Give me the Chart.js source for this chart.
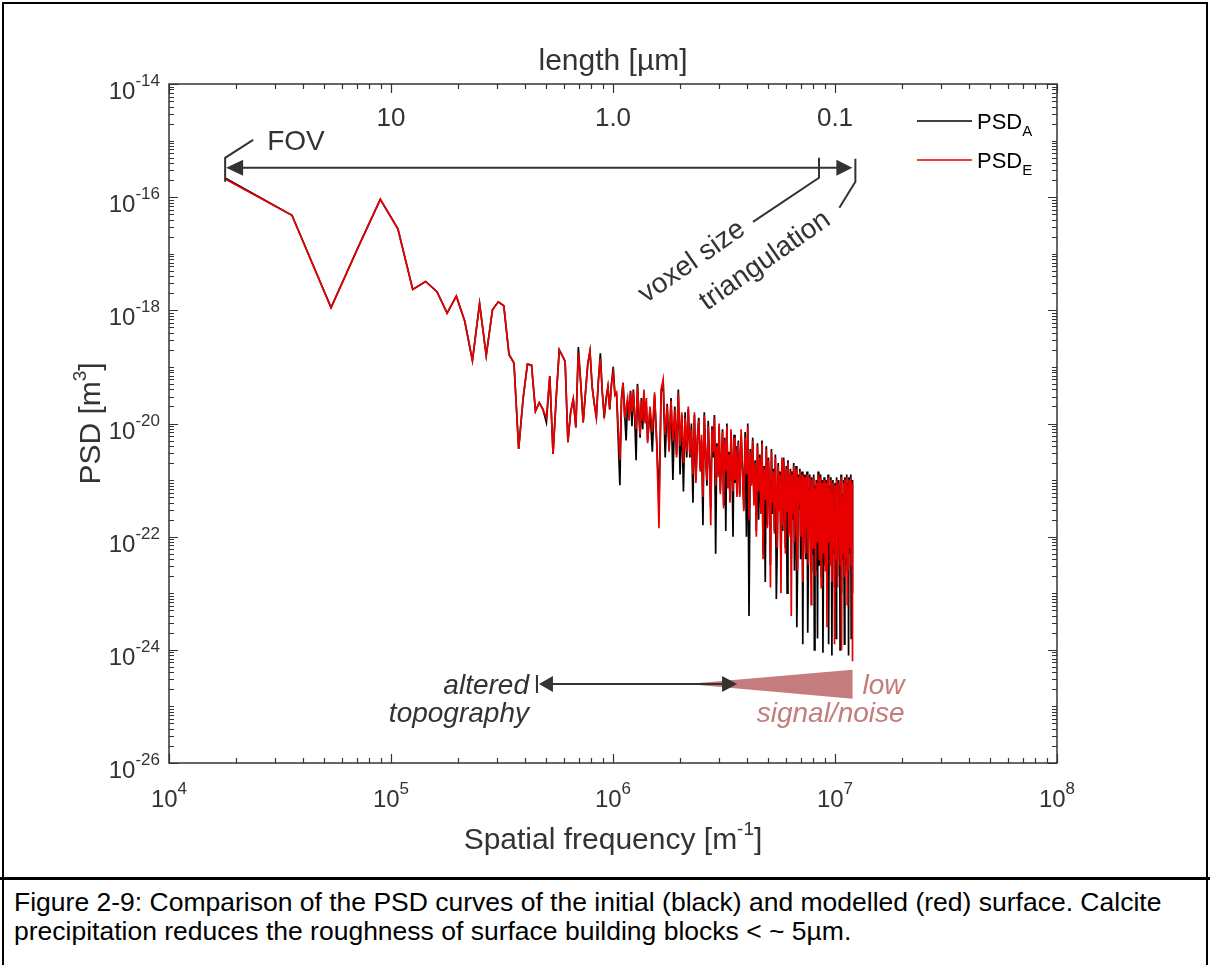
<!DOCTYPE html>
<html>
<head>
<meta charset="utf-8">
<script src="https://cdn.jsdelivr.net/npm/chart.js@4.4.1/dist/chart.umd.min.js"></script>
<style>
  html, body { margin: 0; padding: 0; background: #fff; }
  #page { position: relative; width: 1210px; height: 965px; overflow: hidden; background: #fff; }
  #frame { position: absolute; left: 2px; top: 2px; width: 1206px; height: 1000px; border: 2px solid #000; box-sizing: border-box; }
  #divider { position: absolute; left: 0; top: 877px; width: 1210px; height: 3px; background: #000; }
  #chartBox { position: absolute; left: 0; top: 0; width: 1210px; height: 877px; }
  #caption { position: absolute; left: 14px; top: 888px; width: 1190px; font: 26.5px "Liberation Sans", Arial, sans-serif; line-height: 29px; color: #000; white-space: nowrap; }
</style>
</head>
<body>
<div id="page">
  <div id="frame"></div>
  <div id="chartBox"><canvas id="psdChart" width="1210" height="877"></canvas></div>
  <div id="divider"></div>
  <div id="caption">Figure 2-9: Comparison of the PSD curves of the initial (black) and modelled (red) surface. Calcite<br>precipitation reduces the roughness of surface building blocks &lt; ~ 5µm.</div>
</div>
<script>
// ------------------------------
// data: PSD at harmonics k * F0 (F0 = 1 / field of view)
// values are log10(PSD in m^3)
// ------------------------------
const F0 = 1.79e4;

const harmonic = [
  1, 2, 3, 4, 5, 6, 7, 8, 9, 10, 11, 12, 13, 14, 15, 16, 17, 18, 19, 20,
  21, 22, 23, 24, 25, 26, 27, 28, 29, 30, 31, 32, 33, 34, 35, 36, 37, 38, 39, 40,
  41, 42, 43, 44, 45, 46, 47, 48, 49, 50, 51, 52, 53, 54, 55, 56,
  57, 58, 59, 60, 61, 62, 63, 64, 65, 66, 67, 68, 69, 70, 71, 72, 73, 74, 75, 76, 77, 78, 79, 80,
  82, 84, 86, 88, 90, 92, 94, 96, 98, 100, 102, 104, 106, 108, 110, 112, 114, 116, 118, 120,
  122, 124, 126, 128, 130, 132, 134, 136, 138, 140, 142, 144, 146, 148, 150, 152, 154, 156, 158, 160,
  162, 164, 166, 168, 170, 172, 174, 176, 178, 180, 182, 184, 186, 188, 190, 192, 194, 196, 198, 200, 202,
  205, 208, 211, 214, 217, 220, 223, 226, 229, 232, 235, 238, 241, 244, 247, 250, 253, 256, 259, 262,
  265, 268, 271, 274, 277, 280, 283, 286, 289, 292, 295, 298, 301, 304, 307, 310, 313, 316, 319, 322,
  325, 328, 331, 334, 337, 340, 343, 346, 349, 352, 355, 358, 361, 364, 367, 370, 373, 376, 379, 382,
  385, 388, 391, 394, 397, 400, 403, 406, 409, 412, 415, 418, 421, 424, 427, 430, 433, 436, 439, 442,
  445, 448, 451, 454, 457, 460, 463, 466, 469, 472, 475, 478, 481, 484, 487, 490, 493, 496, 499, 502,
  505, 508, 511, 514, 517, 520, 523, 526, 529, 532, 535, 538, 541, 544, 547, 550, 553, 556, 559, 562,
  565, 568, 571, 574, 577, 580, 583, 586, 589, 592, 595, 598, 601, 604, 607, 610, 613, 616, 619, 622,
  625, 628, 631, 634, 637, 640, 643, 646, 649, 652, 655, 658, 661, 664, 667, 670
];

// PSD_A (initial surface, black)
const psdA = [
  -15.66, -16.32, -17.95, -16.86, -16.04, -16.56, -17.63, -17.49, -17.67, -18.05,
  -17.75, -18.19, -18.89, -17.88, -18.80, -17.99, -17.85, -17.92, -18.78, -18.93,
  -20.45, -19.55, -18.95, -18.97, -19.78, -19.63, -19.75, -19.98, -19.16, -20.54,
  -19.54, -18.70, -18.80, -18.90, -20.33, -19.80, -19.57, -20.07, -18.65, -19.30,
  -19.98, -19.45, -18.95, -18.72, -19.35, -19.65, -19.89, -19.25, -18.76, -19.45,
  -19.90, -19.55, -19.35, -19.75, -19.30, -19.00,
  -19.50, -19.49, -20.30, -21.09, -19.55, -19.28, -19.80, -20.30, -19.60, -19.90,
  -19.42, -20.05, -19.40, -19.90, -20.65, -19.30, -19.80, -20.25, -19.55, -20.10,
  -19.45, -19.95, -19.70, -20.30,
  -19.75, -20.50, -19.50, -20.35, -21.40, -19.45, -19.30, -20.60, -19.65, -20.45,
  -19.55, -21.00, -19.70, -20.55, -19.40, -20.90, -19.85, -21.20, -19.80, -20.60,
  -19.75, -20.60, -20.00, -21.40, -19.85, -21.00, -20.25, -19.90, -20.80, -20.30,
  -21.80, -19.80, -20.55, -21.10, -19.95, -20.70, -21.50, -20.05, -20.60, -19.85,
  -22.30, -20.35, -20.90, -20.05, -21.20, -20.65, -20.10, -21.45, -20.25, -21.90,
  -20.00, -21.10, -20.50, -21.35, -20.15, -20.75, -22.00, -20.20, -21.05, -20.40,
  -21.25,
  -20.30, -21.25, -20.20, -20.80, -21.50, -20.15, -22.00, -20.00, -23.40, -20.45,
  -21.05, -20.25, -21.40, -20.65, -21.90, -20.35, -21.70, -20.55, -21.55, -20.30,
  -22.30, -20.75, -22.80, -20.40, -21.80, -20.60, -21.10, -22.50, -20.45, -21.60,
  -20.80, -21.90, -20.55, -23.10, -22.15, -20.70, -21.50, -20.85, -22.60, -20.65,
  -21.90, -20.60, -21.40, -22.20, -20.75, -23.00, -20.65, -21.95, -21.05, -20.80,
  -22.40, -20.85, -21.70, -20.70, -22.60, -21.20, -20.75, -23.60, -22.50, -20.90,
  -21.50, -20.80, -22.40, -21.10, -20.85, -23.90, -21.25, -20.90, -21.80, -22.40,
  -21.00, -20.85, -23.70, -22.40, -21.15, -20.90, -21.55, -22.60, -20.95, -21.50,
  -22.30, -20.90, -24.00, -21.10, -22.60, -21.00, -21.35, -23.80, -20.85, -21.75,
  -22.50, -21.05, -20.90, -22.70, -21.30, -21.00, -24.05, -22.20, -20.95, -21.55,
  -22.50, -21.15, -21.00, -22.80, -21.35, -20.90, -23.90, -21.65, -21.10, -22.40,
  -20.95, -21.55, -24.10, -21.20, -21.00, -22.30, -21.45, -22.90, -21.05, -21.65,
  -23.80, -20.95, -21.30, -22.70, -21.15, -21.00, -22.10, -21.55, -24.00, -21.10,
  -20.90, -23.00, -21.25, -21.75, -22.40, -21.00, -21.40, -23.90, -20.95, -21.85,
  -22.50, -21.15, -20.90, -22.60, -21.35, -21.05, -24.10, -20.95, -21.65, -22.30,
  -21.10, -20.90, -23.80, -21.25, -21.00, -23.00
];

// PSD_E (modelled surface, red)
const psdE = [
  -15.68, -16.32, -17.95, -16.86, -16.04, -16.56, -17.63, -17.49, -17.67, -18.05,
  -17.75, -18.19, -18.89, -17.88, -18.80, -17.99, -17.85, -17.92, -18.78, -18.93,
  -20.45, -19.55, -18.95, -18.97, -19.78, -19.63, -19.75, -19.90, -19.16, -20.54,
  -19.54, -18.70, -18.80, -18.90, -20.33, -19.80, -19.57, -20.07, -18.75, -19.30,
  -19.98, -19.45, -18.95, -18.72, -19.35, -19.65, -19.89, -19.25, -18.85, -19.45,
  -19.84, -19.60, -19.35, -19.75, -19.30, -19.10,
  -19.50, -19.45, -20.10, -20.65, -19.60, -19.28, -19.90, -19.70, -19.55, -19.95,
  -19.45, -19.80, -19.43, -19.85, -20.10, -19.35, -19.75, -20.20, -19.60, -19.95,
  -19.40, -20.00, -19.55, -20.35,
  -19.70, -20.15, -19.45, -20.40, -21.85, -19.40, -19.22, -20.20, -19.70, -20.50,
  -19.60, -20.30, -19.75, -20.60, -19.46, -20.40, -19.80, -20.70, -19.90, -20.50,
  -19.70, -20.55, -20.10, -20.90, -19.80, -21.05, -20.30, -19.95, -20.85, -20.20,
  -21.30, -19.85, -20.60, -21.00, -20.05, -20.75, -21.80, -20.10, -20.50, -19.90,
  -21.10, -20.40, -20.95, -20.00, -21.25, -20.60, -20.15, -21.50, -20.30, -20.85,
  -20.05, -21.15, -20.55, -21.40, -20.10, -20.80, -21.20, -20.25, -21.00, -20.45,
  -21.30,
  -20.35, -21.30, -20.10, -20.85, -21.55, -20.25, -20.90, -20.05, -21.70, -20.50,
  -21.10, -20.30, -21.45, -20.70, -22.00, -20.40, -21.20, -20.60, -21.60, -20.35,
  -22.40, -20.80, -21.35, -20.45, -21.85, -20.65, -21.15, -22.90, -20.50, -21.40,
  -20.85, -21.95, -20.60, -21.30, -22.20, -20.75, -21.55, -20.90, -23.00, -20.60,
  -21.80, -20.65, -21.30, -22.30, -20.80, -21.55, -20.70, -22.00, -21.10, -20.85,
  -23.40, -20.90, -21.60, -20.75, -22.10, -21.25, -20.80, -21.90, -22.60, -20.95,
  -21.40, -20.85, -22.00, -21.15, -20.90, -22.80, -21.30, -20.95, -21.75, -22.30,
  -21.05, -20.90, -21.85, -22.50, -21.20, -20.95, -21.60, -23.20, -21.00, -21.45,
  -22.20, -20.95, -21.70, -21.15, -22.70, -21.05, -21.40, -22.10, -20.90, -21.80,
  -22.40, -21.10, -20.95, -22.90, -21.35, -21.05, -21.90, -22.30, -21.00, -21.50,
  -22.60, -21.20, -21.05, -23.60, -21.40, -20.95, -22.10, -21.70, -21.15, -22.50,
  -21.00, -21.60, -22.80, -21.25, -21.05, -22.20, -21.50, -23.90, -21.10, -21.70,
  -22.40, -21.00, -21.35, -22.90, -21.20, -21.05, -22.00, -21.60, -22.50, -21.15,
  -20.95, -24.00, -21.30, -21.80, -22.30, -21.05, -21.45, -22.70, -21.00, -21.90,
  -22.40, -21.20, -20.95, -23.20, -21.40, -21.10, -22.60, -21.00, -21.70, -22.20,
  -21.15, -20.95, -22.50, -21.30, -21.05, -24.20
];

const seriesNames = ["PSD", "PSD"];
const seriesSubs = ["A", "E"];
const seriesColors = ["#000000", "#e80000"];

// axis ticks
const xDecades = [4, 5, 6, 7, 8];
const yLabelExps = [-14, -16, -18, -20, -22, -24, -26];
const topTickFreqs = [1e5, 1e6, 1e7];
const topTickLabels = ["10", "1.0", "0.1"];

// annotations (frequency in m^-1, PSD in m^3)
const fovFrom = F0, fovTo = 1.21e7, fovLevel = 3.3e-16;
const voxelFreq = 8.47e6;
const alteredFrom = 4.64e5, alteredTo = 3.62e6, alteredLevel = 2.5e-25;
const wedgeTip = 2.15e6, wedgeEnd = 1.2e7, wedgeTop = 4.44e-25, wedgeBottom = 1.36e-25;

const FONT = '"Liberation Sans", Arial, sans-serif';
const INK = "#333333";

function font(size, style) {
  return `${style || ""} ${size}px ${FONT}`;
}

// draws a row of text pieces (used for superscripts)
function drawRuns(ctx, runs, x, y, align, style) {
  let w = 0;
  runs.forEach(r => {
    ctx.font = font(r.size, style);
    r.w = ctx.measureText(r.text).width;
    w += r.w;
  });
  let cx = align === "center" ? x - w / 2 : align === "right" ? x - w : x;
  ctx.textAlign = "left";
  ctx.textBaseline = "alphabetic";
  runs.forEach(r => {
    ctx.font = font(r.size, style);
    ctx.fillText(r.text, cx, y + (r.dy || 0));
    cx += r.w;
  });
}

function arrowHead(ctx, tipX, y, dir, len, half) {
  ctx.beginPath();
  ctx.moveTo(tipX, y);
  ctx.lineTo(tipX - dir * len, y - half);
  ctx.lineTo(tipX - dir * len, y + half);
  ctx.closePath();
  ctx.fill();
}

const matlabAxes = {
  id: "matlabAxes",
  afterDraw(chart) {
    const { ctx, chartArea: a, scales } = chart;
    const x = scales.x, y = scales.y;
    ctx.save();
    ctx.strokeStyle = INK;
    ctx.fillStyle = INK;
    ctx.lineWidth = 1.5;
    ctx.strokeRect(a.left, a.top, a.right - a.left, a.bottom - a.top);

    // x ticks (bottom + top, inside)
    ctx.lineWidth = 1.2;
    for (let e = 4; e <= 8; e++) {
      for (let m = 1; m <= 9; m++) {
        if (e === 8 && m > 1) break;
        const px = Math.round(x.getPixelForValue(m * Math.pow(10, e))) + 0.5;
        const len = m === 1 ? 9 : 5;
        ctx.beginPath();
        ctx.moveTo(px, a.bottom); ctx.lineTo(px, a.bottom - len);
        ctx.moveTo(px, a.top); ctx.lineTo(px, a.top + len);
        ctx.stroke();
      }
    }
    // y ticks (left + right, inside)
    for (let e = -26; e <= -14; e++) {
      for (let m = 1; m <= 9; m++) {
        if (e === -14 && m > 1) break;
        const py = Math.round(y.getPixelForValue(m * Math.pow(10, e))) + 0.5;
        const len = m === 1 && e % 2 === 0 ? 9 : 5;
        ctx.beginPath();
        ctx.moveTo(a.left, py); ctx.lineTo(a.left + len, py);
        ctx.moveTo(a.right, py); ctx.lineTo(a.right - len, py);
        ctx.stroke();
      }
    }

    // tick labels
    xDecades.forEach(e => {
      const px = x.getPixelForValue(Math.pow(10, e));
      drawRuns(ctx, [{ text: "10", size: 24 }, { text: String(e), size: 17, dy: -13 }], px, a.bottom + 44, "center");
    });
    yLabelExps.forEach(e => {
      const py = y.getPixelForValue(Math.pow(10, e));
      drawRuns(ctx, [{ text: "10", size: 24 }, { text: String(e), size: 17, dy: -13 }], a.left - 9, py + 15, "right");
    });
    topTickFreqs.forEach((f, i) => {
      ctx.font = font(26);
      ctx.textAlign = "center";
      ctx.fillText(topTickLabels[i], x.getPixelForValue(f), a.top + 42);
    });

    // axis titles
    const midX = (a.left + a.right) / 2;
    ctx.textAlign = "center";
    ctx.font = font(30);
    ctx.fillText("length [µm]", midX, a.top - 14);
    drawRuns(ctx, [{ text: "Spatial frequency [m", size: 30 }, { text: "-1", size: 19, dy: -14 }, { text: "]", size: 30 }], midX, a.bottom + 86, "center");
    ctx.save();
    ctx.translate(100, (a.top + a.bottom) / 2);
    ctx.rotate(-Math.PI / 2);
    drawRuns(ctx, [{ text: "PSD [m", size: 30 }, { text: "3", size: 19, dy: -14 }, { text: "]", size: 30 }], 0, 0, "center");
    ctx.restore();

    // legend
    const legY = [a.top + 37, a.top + 76];
    legY.forEach((ly, i) => {
      ctx.strokeStyle = seriesColors[i];
      ctx.lineWidth = 1.6;
      ctx.beginPath();
      ctx.moveTo(917, ly); ctx.lineTo(972, ly);
      ctx.stroke();
      ctx.fillStyle = "#000";
      drawRuns(ctx, [{ text: seriesNames[i], size: 22 }, { text: seriesSubs[i], size: 15, dy: 7 }], 977, ly + 8, "left");
    });

    // FOV / voxel size / triangulation annotation
    ctx.strokeStyle = INK;
    ctx.fillStyle = INK;
    ctx.lineWidth = 2;
    const fy = y.getPixelForValue(fovLevel);
    const fx1 = x.getPixelForValue(fovFrom);
    const fx2 = x.getPixelForValue(fovTo);
    const vx = x.getPixelForValue(voxelFreq);
    ctx.beginPath();
    ctx.moveTo(fx1 + 14, fy); ctx.lineTo(fx2 - 14, fy);
    ctx.moveTo(fx1, fy + 14); ctx.lineTo(fx1, fy - 10); ctx.lineTo(fx1 + 28, fy - 28);
    ctx.moveTo(vx, fy - 10); ctx.lineTo(vx, fy + 10); ctx.lineTo(vx - 66, fy + 54);
    ctx.moveTo(fx2 + 2, fy - 9); ctx.lineTo(fx2 + 2, fy + 14); ctx.lineTo(fx2 - 14, fy + 40);
    ctx.stroke();
    arrowHead(ctx, fx1 + 1, fy, -1, 17, 8);
    arrowHead(ctx, fx2 - 1, fy, 1, 16, 8);
    ctx.font = font(28);
    ctx.textAlign = "left";
    ctx.fillText("FOV", fx1 + 42, fy - 18);
    [["voxel size", vx - 127, fy + 94], ["triangulation", vx - 54, fy + 93]].forEach(([t, tx, ty]) => {
      ctx.save();
      ctx.translate(tx, ty);
      ctx.rotate(-35 * Math.PI / 180);
      ctx.font = font(28);
      ctx.textAlign = "center";
      ctx.textBaseline = "middle";
      ctx.fillText(t, 0, 0);
      ctx.restore();
    });

    // low signal/noise wedge
    const wx1 = x.getPixelForValue(wedgeTip);
    const wx2 = x.getPixelForValue(wedgeEnd);
    const ay = y.getPixelForValue(alteredLevel);
    ctx.fillStyle = "#c47c7c";
    ctx.beginPath();
    ctx.moveTo(wx1, ay);
    ctx.lineTo(wx2, y.getPixelForValue(wedgeTop));
    ctx.lineTo(wx2, y.getPixelForValue(wedgeBottom));
    ctx.closePath();
    ctx.fill();

    // altered topography arrow
    const ax1 = x.getPixelForValue(alteredFrom);
    const ax2 = x.getPixelForValue(alteredTo);
    ctx.fillStyle = INK;
    ctx.strokeStyle = INK;
    ctx.lineWidth = 2;
    ctx.beginPath();
    ctx.moveTo(ax1 - 2, ay - 9); ctx.lineTo(ax1 - 2, ay + 9);
    ctx.moveTo(ax1 + 10, ay); ctx.lineTo(ax2 - 12, ay);
    ctx.stroke();
    arrowHead(ctx, ax1, ay, -1, 14, 8);
    arrowHead(ctx, ax2, ay, 1, 15, 8);

    ctx.font = font(28, "italic");
    ctx.textAlign = "right";
    ctx.fillText("altered", ax1 - 10, ay + 10);
    ctx.fillText("topography", ax1 - 10, ay + 38);
    ctx.fillStyle = "#c47c7c";
    ctx.fillText("low", wx2 + 52, ay + 10);
    ctx.fillText("signal/noise", wx2 + 52, ay + 38);
    ctx.restore();
  }
};

function toPoints(logs) {
  return harmonic.map((k, i) => ({ x: k * F0, y: Math.pow(10, logs[i]) }));
}

if (psdA.length !== harmonic.length || psdE.length !== harmonic.length) {
  console.error("length mismatch", harmonic.length, psdA.length, psdE.length);
}

const chart = new Chart(document.getElementById("psdChart"), {
  type: "line",
  data: {
    datasets: [
      {
        label: "PSD_A",
        data: toPoints(psdA),
        borderColor: seriesColors[0],
        borderWidth: 1.7,
        pointRadius: 0,
        tension: 0,
        order: 2
      },
      {
        label: "PSD_E",
        data: toPoints(psdE),
        borderColor: seriesColors[1],
        borderWidth: 1.7,
        pointRadius: 0,
        tension: 0,
        order: 1
      }
    ]
  },
  options: {
    responsive: false,
    animation: false,
    devicePixelRatio: 1,
    layout: { padding: { left: 169, right: 153, top: 84, bottom: 114 } },
    plugins: { legend: { display: false }, tooltip: { enabled: false } },
    scales: {
      x: { type: "logarithmic", min: 1e4, max: 1e8, display: false },
      y: { type: "logarithmic", min: 1e-26, max: 1e-14, display: false }
    }
  },
  plugins: [matlabAxes]
});
</script>
</body>
</html>
